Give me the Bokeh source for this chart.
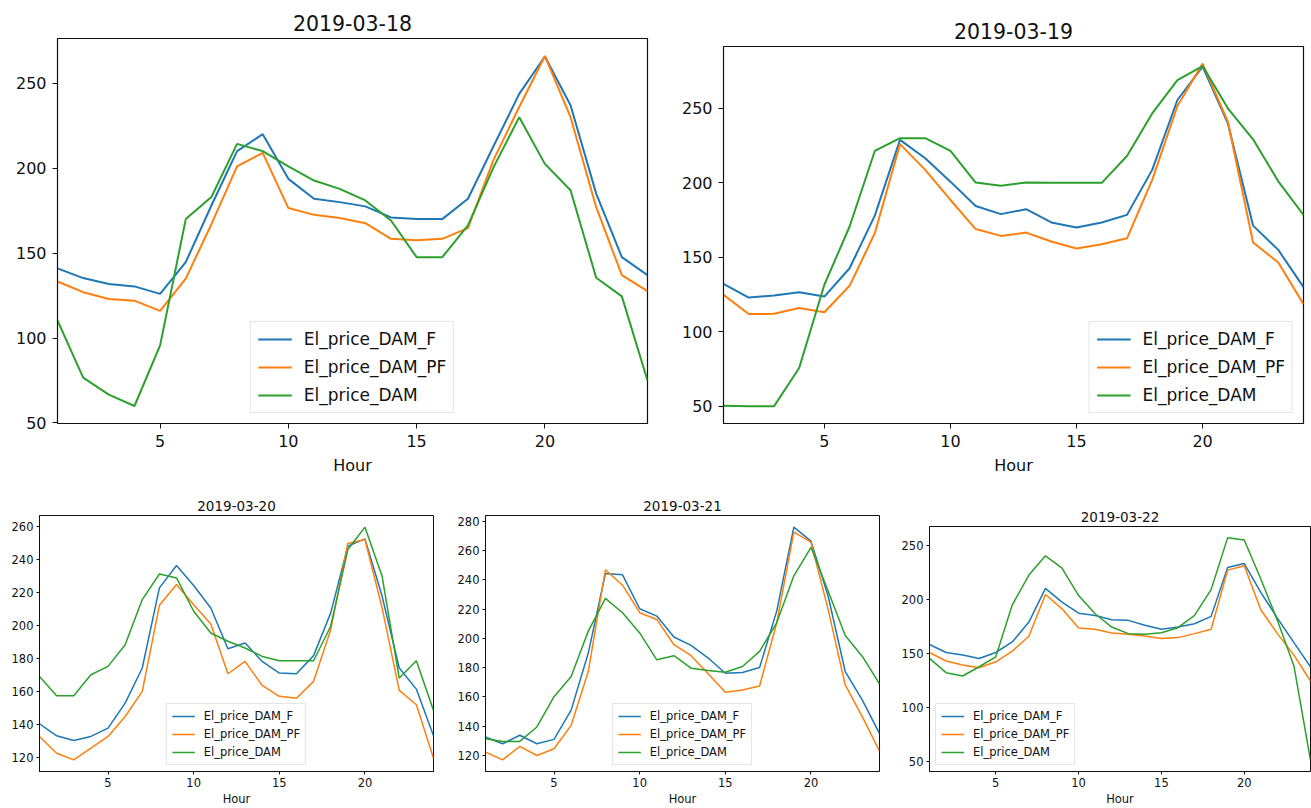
from bokeh.plotting import figure
from bokeh.layouts import column, row
from bokeh.models import Range1d, FixedTicker
from bokeh.embed import file_html
from bokeh.resources import INLINE

hours = list(range(1, 25))
series_names = ["El_price_DAM_F", "El_price_DAM_PF", "El_price_DAM"]
x_ticks = [5, 10, 15, 20]

# 2019-03-18
f_0318 = [141, 135.3, 131.8, 130.4, 126, 144.7, 178, 210, 220, 193.7, 182, 180, 177.5, 171, 170, 170,
          182, 213, 243.7, 265.7, 237, 185, 147.6, 137]
pf_0318 = [133.3, 127, 123, 122, 116, 135, 167, 201, 209, 176.5, 172.5, 170.6, 167.6, 158.4, 157.5, 158.4,
           164.7, 205, 236, 266, 230, 177, 137, 127.6]
dam_0318 = [110.4, 76.7, 66.7, 60, 95.7, 170, 183, 214.3, 210, 201, 192.7, 187.8, 181, 169.2, 147.6, 147.6,
            166.3, 200.6, 230, 202.5, 187, 135.5, 124.5, 75]
yticks_0318 = [50, 100, 150, 200, 250]

# 2019-03-19
f_0319 = [132.2, 123, 124.4, 126.6, 123.7, 142.7, 178, 228.8, 216.5, 200.8, 184.5, 179, 182.3, 173.4, 170, 173.4,
          178.5, 208.7, 255.6, 278, 240, 171.3, 155, 130]
pf_0319 = [124.9, 112, 112.1, 116, 113.2, 130.9, 166.2, 226, 208.7, 188.5, 169, 164.4, 166.6, 160.6, 156, 158.8,
           162.8, 202, 251.6, 280, 241, 160, 146.5, 118.6]
dam_0319 = [50.4, 50, 50, 75.7, 131.6, 170.7, 221.4, 230, 230, 221.4, 200.2, 198, 200.2, 200, 200, 200,
            218, 246.6, 269, 278.4, 250, 229.2, 201, 178.5]
yticks_0319 = [50, 100, 150, 200, 250]

# 2019-03-20
f_0320 = [140.2, 132.9, 130, 132.5, 137.5, 152.7, 174, 222.6, 236.1, 224, 210.4, 185.7, 189.1, 178, 170.9, 170.5,
          181.5, 207.4, 247.9, 252.3, 217.5, 174, 161.2, 132.9]
pf_0320 = [132.5, 122.3, 118.3, 125.4, 132.5, 144.6, 159.8, 212, 224.6, 212.4, 200.7, 170.5, 178, 163.4, 156.8, 155.7,
           165.9, 197.2, 249.5, 251.9, 210.4, 160.4, 151.7, 119.3]
dam_0320 = [168.9, 157.2, 157.2, 169.9, 175, 188.1, 215.5, 231, 228.6, 208.4, 195.2, 190.2, 186.1, 181, 178.4, 178.4,
            178.4, 199.3, 245.8, 259.4, 229.6, 167.9, 178.4, 148.3]
yticks_0320 = [120, 140, 160, 180, 200, 220, 240, 260]

# 2019-03-21
f_0321 = [132.6, 128, 133.8, 128, 131, 151, 190, 244.4, 243.5, 220.3, 215.3, 201, 195.3, 186.6, 176.2, 176.7,
          180.1, 218.7, 276.1, 266.5, 229, 177.4, 157.9, 135]
pf_0321 = [122.3, 117, 126.2, 120, 124.6, 140.6, 177.4, 247, 236.4, 217.6, 213, 195.7, 188.2, 175.8, 163.2, 164.8,
           167.5, 210.7, 272.7, 265.8, 219.9, 168.2, 146.4, 123]
dam_0321 = [131.5, 129.6, 129.6, 139.5, 160.2, 174, 205, 227.4, 217.6, 203.8, 185.4, 188.2, 179.7, 178.1, 176.9, 180.8,
            191.2, 210.7, 242.8, 262.3, 232.5, 202, 187.7, 168.9]
yticks_0321 = [120, 140, 160, 180, 200, 220, 240, 260, 280]

# 2019-03-22
f_0322 = [158.6, 151.2, 148.8, 145.7, 151.2, 161, 179.4, 210.7, 197.9, 187.7, 185.6, 181.6, 181, 176.4, 172.7, 174.8,
          177.9, 184.7, 230, 233.7, 207, 183.1, 160.4, 138]
pf_0322 = [151.2, 143.3, 139.6, 137.1, 142.6, 152.5, 166.3, 205, 191.7, 173.9, 172.7, 169.3, 168.1, 166.6, 164.1, 165,
           168.7, 172.7, 227.6, 231.6, 190.8, 168.7, 148.8, 124.8]
dam_0322 = [145.7, 132.5, 129.4, 138, 147.2, 195.4, 223, 240.8, 229.4, 204, 187.1, 174.8, 168.7, 168.1, 169.6, 174.2,
            185.6, 209.5, 257.7, 255.5, 219.3, 181, 138.7, 51.2]
yticks_0322 = [50, 100, 150, 200, 250]

COLORS = ["#1f77b4", "#ff7f0e", "#2ca02c"]
FONT = "DejaVu Sans"


def make_panel(title, f, pf, dam, yticks, width, height, bl, br, bt, bb, big, legend_loc, top_margin=0):
    lo = min(min(f), min(pf), min(dam))
    hi = max(max(f), max(pf), max(dam))
    pad = (hi - lo) * 0.05
    p = figure(width=width, height=height, output_backend="svg", toolbar_location=None,
               x_range=Range1d(1, 24), y_range=Range1d(lo - pad, hi + pad),
               min_border_left=bl, min_border_right=br, min_border_top=bt, min_border_bottom=bb)
    p.margin = (top_margin, 0, 0, 0)
    lw = 2 if big else 1.5
    for vals, name, c in zip([f, pf, dam], series_names, COLORS):
        p.line(hours, vals, line_color=c, line_width=lw, legend_label=name)

    tick_fs = "16px" if big else "11.5px"
    title_fs = "20.5px" if big else "13.5px"
    p.title.text = title
    p.title.align = "center"
    p.title.text_font = FONT
    p.title.text_font_size = title_fs
    p.title.text_font_style = "normal"
    p.title.text_color = "#111111"
    p.title.standoff = 15 if big else 9

    p.xgrid.visible = False
    p.ygrid.visible = False
    p.outline_line_color = "#111111"
    p.outline_line_width = 1.2 if big else 1

    p.xaxis.ticker = FixedTicker(ticks=x_ticks)
    p.yaxis.ticker = FixedTicker(ticks=yticks)
    p.xaxis.axis_label = "Hour"
    for ax in [p.xaxis[0], p.yaxis[0]]:
        ax.axis_line_color = "#111111"
        ax.major_tick_line_color = "#111111"
        ax.minor_tick_line_color = None
        ax.major_tick_out = 5 if big else 3
        ax.major_tick_in = 0
        ax.major_label_text_font = FONT
        ax.major_label_text_font_size = tick_fs
        ax.major_label_text_color = "#111111"
        ax.major_label_standoff = 6 if big else 3
    p.xaxis.axis_label_text_font = FONT
    p.xaxis.axis_label_text_font_size = tick_fs
    p.xaxis.axis_label_text_font_style = "normal"
    p.xaxis.axis_label_text_color = "#111111"
    p.xaxis.axis_label_standoff = 6 if big else 2

    lg = p.legend[0]
    lg.location = legend_loc
    lg.label_text_font = FONT
    lg.label_text_font_size = "17px" if big else "11.5px"
    lg.label_text_color = "#111111"
    lg.border_line_color = "#cccccc"
    lg.border_line_width = 1
    lg.background_fill_alpha = 0.85
    if big:
        lg.glyph_width = 34
        lg.glyph_height = 20
        lg.label_height = 20
        lg.label_standoff = 12
        lg.spacing = 8
        lg.padding = 7
        lg.margin = 10
    else:
        lg.glyph_width = 23
        lg.glyph_height = 14
        lg.label_height = 14
        lg.label_standoff = 9
        lg.spacing = 4
        lg.padding = 5
        lg.margin = 6
    return p


p1 = make_panel("2019-03-18", f_0318, pf_0318, dam_0318, yticks_0318, 655, 480, 57, 8, 38, 57, True, "bottom_center")
p2 = make_panel("2019-03-19", f_0319, pf_0319, dam_0319, yticks_0319, 656, 472, 68, 8, 38, 56, True, "bottom_right",
                top_margin=8)
p3 = make_panel("2019-03-20", f_0320, pf_0320, dam_0320, yticks_0320, 440, 328, 39, 7, 35, 36, False, "bottom_center")
p4 = make_panel("2019-03-21", f_0321, pf_0321, dam_0321, yticks_0321, 445, 328, 45, 6, 35, 36, False, "bottom_center")
p5 = make_panel("2019-03-22", f_0322, pf_0322, dam_0322, yticks_0322, 426, 317, 44, 1, 35, 35, False, "bottom_left",
                top_margin=11)

layout = column(row(p1, p2), row(p3, p4, p5))
open("out.html", "w").write(file_html(layout, INLINE))
